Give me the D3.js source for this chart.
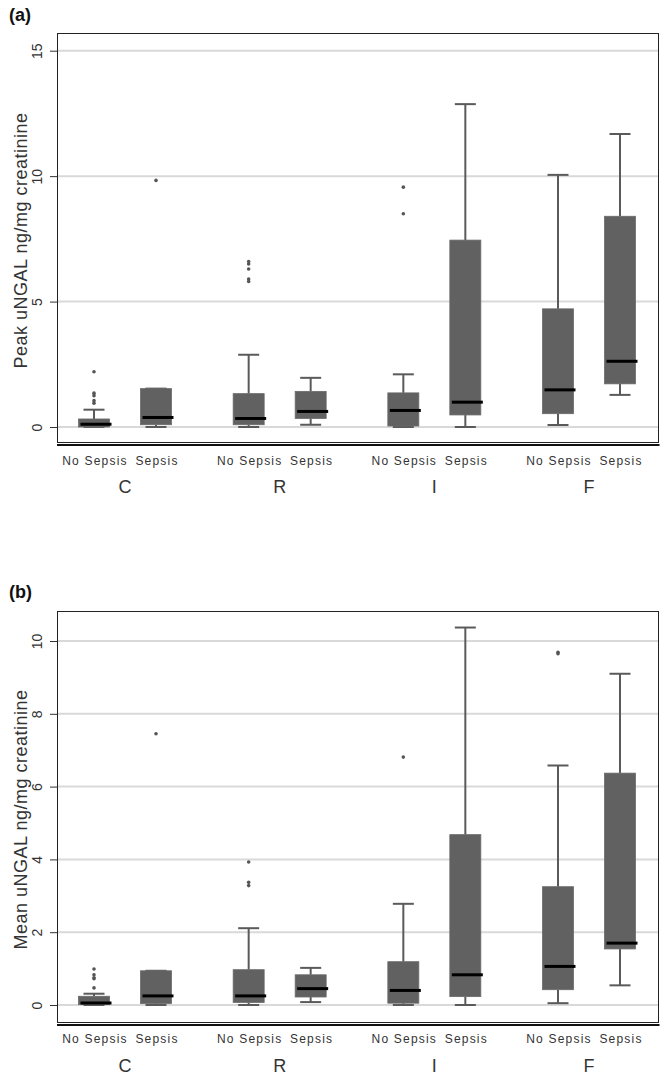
<!DOCTYPE html>
<html>
<head>
<meta charset="utf-8">
<script src="https://cdn.jsdelivr.net/npm/d3@7/dist/d3.min.js"></script>
<style>
  html, body { margin: 0; padding: 0; background: #fff; }
  svg { display: block; font-family: Arial, "Liberation Sans", sans-serif; }
</style>
</head>
<body>
<svg id="chart" width="669" height="1086"></svg>
<script>
// ---------- data ----------
const groups = ["C", "R", "I", "F"];
const subgroups = ["No Sepsis", "Sepsis"];
// box order: C-NoSepsis, C-Sepsis, R-NoSepsis, R-Sepsis, I-NoSepsis, I-Sepsis, F-NoSepsis, F-Sepsis
const peakLow  = [0,    0,    0,    0.09, 0,    0,     0.08,  1.28];
const peakQ1   = [0,    0.09, 0.09, 0.34, 0.04, 0.48,  0.53,  1.72];
const peakMed  = [0.11, 0.38, 0.34, 0.62, 0.66, 0.99,  1.48,  2.62];
const peakQ3   = [0.32, 1.53, 1.33, 1.42, 1.36, 7.45,  4.71,  8.40];
const peakHigh = [0.69, 1.53, 2.88, 1.96, 2.10, 12.87, 10.05, 11.68];
const peakOut  = [[2.2, 1.35, 1.25, 1.05, 0.95], [9.83], [6.6, 6.5, 6.3, 5.9, 5.8], [], [9.56, 8.5], [], [], []];
const peakTicks = [0, 5, 10, 15];

const meanLow  = [0,     0,    0,    0.08, 0,    0,     0.05, 0.54];
const meanQ1   = [0.01,  0.04, 0.07, 0.22, 0.05, 0.23,  0.42, 1.54];
const meanMed  = [0.055, 0.25, 0.25, 0.45, 0.40, 0.83,  1.06, 1.70];
const meanQ3   = [0.24,  0.94, 0.97, 0.83, 1.19, 4.68,  3.25, 6.37];
const meanHigh = [0.31,  0.94, 2.11, 1.02, 2.78, 10.37, 6.58, 9.10];
const meanOut  = [[0.99, 0.83, 0.75, 0.72, 0.47], [7.45], [3.93, 3.37, 3.28], [], [6.81], [], [9.69, 9.65], []];
const meanTicks = [0, 2, 4, 6, 8, 10];

const panelLabels = ["(a)", "(b)"];
const yTitles = ["Peak uNGAL ng/mg creatinine", "Mean uNGAL ng/mg creatinine"];

// ---------- layout ----------
const svg = d3.select("#chart");
svg.append("rect").attr("width", 669).attr("height", 1086).attr("fill", "#fff");

const frameL = 57, frameR = 658;
const xGroup = d3.scalePoint().domain(groups).range([125, 589]);
const xSub = d3.scalePoint().domain(subgroups).range([-31, 31]);
const boxW = 31, capW = 21;

const panels = [
  { label: panelLabels[0], labelY: 21, top: 33, bottom: 442, y0: 427, yTopVal: 15, yTopPx: 50.7,
    ticks: peakTicks, title: yTitles[0], low: peakLow, q1: peakQ1, med: peakMed, q3: peakQ3, high: peakHigh, out: peakOut,
    subY: 465, grpY: 493 },
  { label: panelLabels[1], labelY: 598, top: 611, bottom: 1022, y0: 1005, yTopVal: 10, yTopPx: 641,
    ticks: meanTicks, title: yTitles[1], low: meanLow, q1: meanQ1, med: meanMed, q3: meanQ3, high: meanHigh, out: meanOut,
    subY: 1043, grpY: 1072 }
];

const boxColor = "#616161";
const lineColor = "#5a5a5a";

panels.forEach(p => {
  const y = d3.scaleLinear().domain([0, p.yTopVal]).range([p.y0, p.yTopPx]);
  const g = svg.append("g");

  // panel label
  g.append("text").attr("x", 9).attr("y", p.labelY)
    .attr("font-size", 18).attr("font-weight", "bold").attr("fill", "#111")
    .text(p.label);

  // gridlines
  g.append("g").selectAll("line").data(p.ticks).join("line")
    .attr("x1", frameL).attr("x2", frameR + 1)
    .attr("y1", d => y(d)).attr("y2", d => y(d))
    .attr("stroke", "#d9d9d9").attr("stroke-width", 2);

  // frame
  g.append("rect").attr("x", frameL + 0.5).attr("y", p.top + 0.5)
    .attr("width", frameR - frameL).attr("height", p.bottom - p.top)
    .attr("fill", "none").attr("stroke", "#222").attr("stroke-width", 1);
  g.append("line").attr("x1", frameL).attr("x2", frameR + 1.5)
    .attr("y1", p.bottom + 3).attr("y2", p.bottom + 3)
    .attr("stroke", "#111").attr("stroke-width", 2);

  // y axis
  const ax = g.append("g").attr("transform", `translate(${frameL},0)`)
    .call(d3.axisLeft(y).tickValues(p.ticks).tickSize(7).tickPadding(0));
  ax.select(".domain").remove();
  ax.selectAll(".tick line").attr("stroke", "#333").attr("stroke-width", 1);
  ax.selectAll(".tick text")
    .attr("transform", "rotate(-90)")
    .attr("x", 0).attr("y", -15).attr("dy", 0)
    .attr("text-anchor", "middle")
    .attr("font-size", 14).attr("fill", "#333")
    .attr("font-family", "Arial, 'Liberation Sans', sans-serif");

  // y title
  const midY = (p.top + p.bottom) / 2 + 3;
  g.append("text").attr("transform", `translate(27,${midY}) rotate(-90)`)
    .attr("text-anchor", "middle").attr("font-size", 18).attr("letter-spacing", "0.5px").attr("fill", "#333")
    .text(p.title);

  // boxes
  const boxes = [];
  groups.forEach((gr, gi) => subgroups.forEach((sg, si) => {
    const i = gi * 2 + si;
    boxes.push({ cx: xGroup(gr) + xSub(sg), low: p.low[i], q1: p.q1[i], med: p.med[i], q3: p.q3[i], high: p.high[i], out: p.out[i] });
  }));

  const bg = g.append("g").selectAll("g").data(boxes).join("g");
  // whiskers
  bg.append("line").attr("x1", d => d.cx).attr("x2", d => d.cx)
    .attr("y1", d => y(d.q3)).attr("y2", d => y(d.high))
    .attr("stroke", lineColor).attr("stroke-width", 2);
  bg.append("line").attr("x1", d => d.cx).attr("x2", d => d.cx)
    .attr("y1", d => y(d.q1)).attr("y2", d => y(d.low))
    .attr("stroke", lineColor).attr("stroke-width", 2);
  bg.append("line").attr("x1", d => d.cx - capW / 2).attr("x2", d => d.cx + capW / 2)
    .attr("y1", d => y(d.high)).attr("y2", d => y(d.high))
    .attr("stroke", lineColor).attr("stroke-width", 2);
  bg.append("line").attr("x1", d => d.cx - capW / 2).attr("x2", d => d.cx + capW / 2)
    .attr("y1", d => y(d.low)).attr("y2", d => y(d.low))
    .attr("stroke", lineColor).attr("stroke-width", 2);
  // box
  bg.append("rect").attr("x", d => d.cx - boxW / 2).attr("width", boxW)
    .attr("y", d => y(d.q3)).attr("height", d => Math.max(1, y(d.q1) - y(d.q3)))
    .attr("fill", boxColor).attr("stroke", "#6a6a6a").attr("stroke-width", 0.8);
  // median
  bg.append("line").attr("x1", d => d.cx - boxW / 2 + 2).attr("x2", d => d.cx + boxW / 2 + 2)
    .attr("y1", d => y(d.med)).attr("y2", d => y(d.med))
    .attr("stroke", "#000").attr("stroke-width", 3);
  // outliers
  bg.selectAll("circle").data(d => d.out.map(v => ({ cx: d.cx, v }))).join("circle")
    .attr("cx", d => d.cx).attr("cy", d => y(d.v)).attr("r", 1.8)
    .attr("fill", "#555");

  // x labels
  const xl = g.append("g");
  groups.forEach(gr => {
    subgroups.forEach(sg => {
      xl.append("text").attr("x", xGroup(gr) + xSub(sg) + 1).attr("y", p.subY)
        .attr("text-anchor", "middle").attr("font-size", 12).attr("letter-spacing", "1.2px")
        .attr("fill", "#333").text(sg);
    });
    xl.append("text").attr("x", xGroup(gr)).attr("y", p.grpY)
      .attr("text-anchor", "middle").attr("font-size", 18).attr("fill", "#333")
      .text(gr);
  });
});
</script>
</body>
</html>
